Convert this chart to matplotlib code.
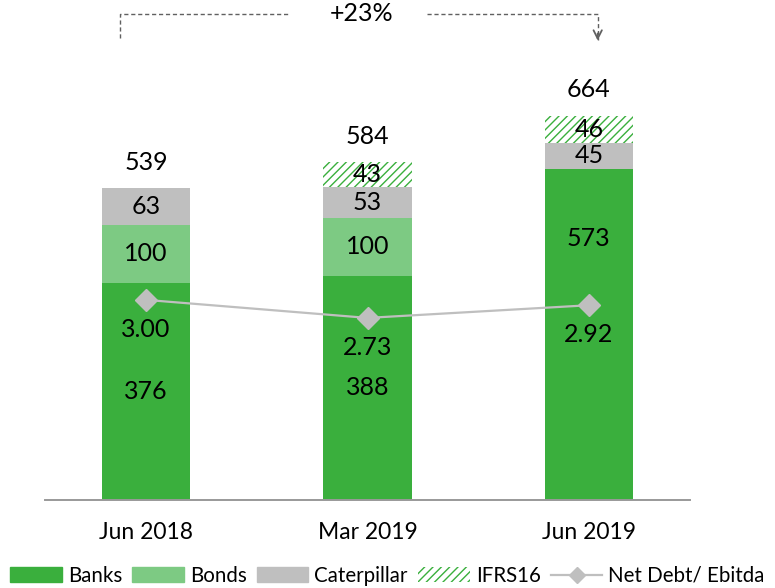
import matplotlib
matplotlib.use('Agg')
import numpy as np
from matplotlib import pyplot as plt
from matplotlib.patches import Patch
from matplotlib.lines import Line2D

plt.rcParams['font.family'] = ['Lato', 'DejaVu Sans']
plt.rcParams['hatch.linewidth'] = 1.0

# data
periods = ['Jun 2018', 'Mar 2019', 'Jun 2019']
banks = [376, 388, 573]
bonds = [100, 100, 0]
caterpillar = [63, 53, 45]
ifrs16 = [0, 43, 46]
totals = [539, 584, 664]
net_debt_ebitda = [3.00, 2.73, 2.92]
growth_label = '+23%'

c_banks = '#3aaf3d'
c_bonds = '#7dca83'
c_cat = '#bfbfbf'
c_line = '#bfbfbf'

fig = plt.figure(figsize=(7.75, 5.88), dpi=100)
ax = fig.add_axes([45/775, 1-500/588, 645/775, 490/588])
ax2 = ax.twinx()

x = np.arange(len(periods))
w = 0.40
b1 = np.array(banks)
b2 = b1 + np.array(bonds)
b3 = b2 + np.array(caterpillar)

ax.bar(x, banks, w, color=c_banks, zorder=2)
ax.bar(x, bonds, w, bottom=b1, color=c_bonds, zorder=2)
ax.bar(x, caterpillar, w, bottom=b2, color=c_cat, zorder=2)
ax.bar(x, ifrs16, w, bottom=b3, color='white', edgecolor=c_banks,
       hatch='////', linewidth=0, zorder=2)

fs = 18
for i in range(len(periods)):
    # banks label (last one sits higher to leave room for the ratio)
    yb = banks[i] / 2 if i < 2 else banks[i] * 0.79
    ax.text(x[i], yb, str(banks[i]), ha='center', va='center', fontsize=fs, zorder=5)
    if bonds[i]:
        ax.text(x[i], b1[i] + bonds[i] / 2, str(bonds[i]), ha='center', va='center', fontsize=fs, zorder=5)
    ax.text(x[i], b2[i] + caterpillar[i] / 2, str(caterpillar[i]), ha='center', va='center', fontsize=fs, zorder=5)
    if ifrs16[i]:
        ax.text(x[i], b3[i] + ifrs16[i] / 2, str(ifrs16[i]), ha='center', va='center', fontsize=fs, zorder=5)
    ax.annotate(str(totals[i]), (x[i], totals[i]), xytext=(0, 19), textcoords='offset points',
                ha='center', va='center', fontsize=fs)

ax.set_xlim(-0.457, 2.457)
ax.set_ylim(0, 490 / 0.578)
ax2.set_ylim(0, 490 / 66.7)

ax2.plot(x, net_debt_ebitda, color=c_line, lw=1.6, marker='D', ms=11, zorder=4)
for i, v in enumerate(net_debt_ebitda):
    ax2.annotate('%.2f' % v, (x[i], v), xytext=(0, -21), textcoords='offset points',
                 ha='center', va='center', fontsize=fs, zorder=5)
ax2.set_zorder(ax.get_zorder() + 1)
ax2.patch.set_visible(False)

for a in (ax, ax2):
    for s in ['top', 'right', 'left', 'bottom']:
        a.spines[s].set_visible(False)
    a.set_yticks([])
ax.spines['bottom'].set_visible(True)
ax.spines['bottom'].set_color('#999999')
ax.spines['bottom'].set_linewidth(1.4)
ax.set_xticks(x)
ax.set_xticklabels(periods, fontsize=16.5)
ax.tick_params(axis='x', length=0, pad=16)

# growth bracket
gc = '#606060'
ytop = 840
ax.plot([-0.12, -0.12, 0.65], [799, ytop, ytop], color=gc, lw=1, ls=(0, (3, 2)), clip_on=False)
ax.plot([1.27, 2.04, 2.04], [ytop, ytop, 795], color=gc, lw=1, ls=(0, (3, 2)), clip_on=False)
ax.annotate('', xy=(2.04, 790), xytext=(2.04, 812),
            arrowprops=dict(arrowstyle='->,head_length=0.6,head_width=0.3', color=gc, lw=1.3),
            annotation_clip=False)
ax.text(0.973, ytop + 2, growth_label, ha='center', va='center', fontsize=18)

handles = [Patch(color=c_banks), Patch(color=c_bonds), Patch(color=c_cat),
           Patch(facecolor='white', edgecolor=c_banks, hatch='////', linewidth=0),
           Line2D([], [], color=c_line, lw=1.6, marker='D', ms=8)]
labels = ['Banks', 'Bonds', 'Caterpillar', 'IFRS16', 'Net Debt/ Ebitda']
fig.legend(handles, labels, loc='center', bbox_to_anchor=(0.5, 1 - 576/588), ncol=5,
           frameon=False, fontsize=14.8, handlelength=2.5, handleheight=0.75,
           handletextpad=0.3, columnspacing=0.5, borderaxespad=0)

fig.savefig('out.png', dpi=100)
